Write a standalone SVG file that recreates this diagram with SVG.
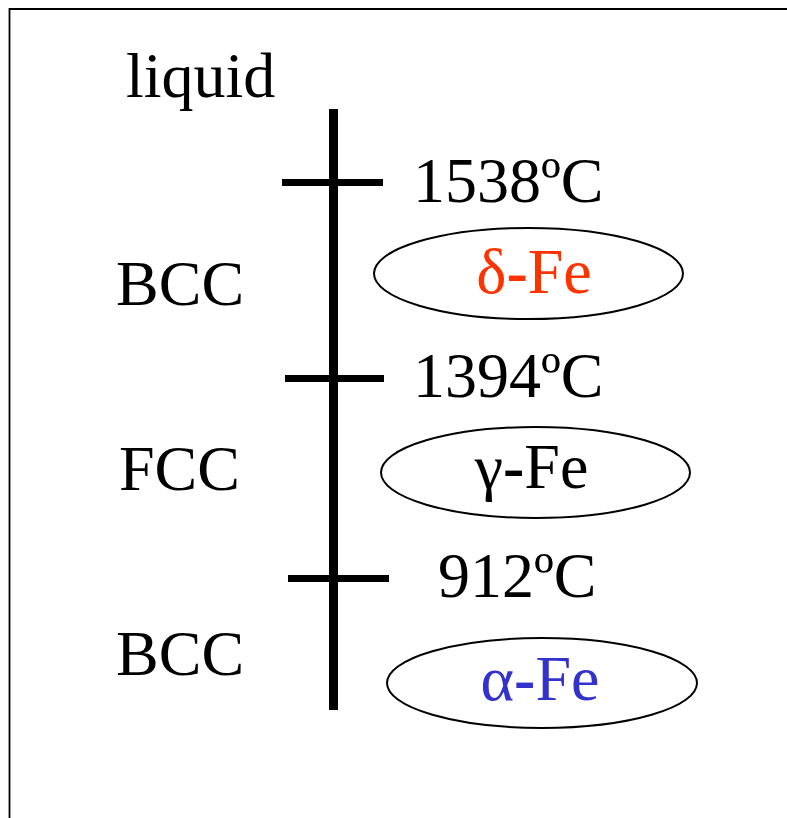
<svg xmlns="http://www.w3.org/2000/svg" width="787" height="818" viewBox="0 0 787 818">
<style>
.t{font-family:"Liberation Serif","Times New Roman",serif;font-size:64px;fill:#000}
.e{fill:none;stroke:#000;stroke-width:2}
.ax{stroke:#000;stroke-width:9}
.tk{stroke:#000;stroke-width:7}
.b{font-weight:bold}
</style>
<rect width="787" height="818" fill="#fff"/>
<g id="frame" fill="none" stroke="#000" stroke-width="1.8">
<path d="M9.5,818 V9 H787"/>
</g>
<g id="connectors">
<line class="ax" x1="333.5" y1="109" x2="333.5" y2="710"/>
<line class="tk" x1="282" y1="182.5" x2="383" y2="182.5"/>
<line class="tk" x1="285" y1="378.5" x2="384" y2="378.5"/>
<line class="tk" x1="288" y1="578.5" x2="389" y2="578.5"/>
</g>
<g id="liquid"><text class="t" x="126" y="97">liquid</text></g>
<g id="t1538"><text class="t" x="413" y="202">1538ºC</text></g>
<g id="t1394"><text class="t" x="413" y="397">1394ºC</text></g>
<g id="t912"><text class="t" x="438" y="597">912ºC</text></g>
<g id="bcc1"><text class="t" x="116" y="305">BCC</text></g>
<g id="fcc"><text class="t" x="119" y="490">FCC</text></g>
<g id="bcc2"><text class="t" x="116" y="675">BCC</text></g>
<g id="delta">
<ellipse class="e" cx="528.5" cy="273.5" rx="154.5" ry="45.5"/>
<text class="t" x="534" y="293" text-anchor="middle" style="fill:#FF3300">δ<tspan class="b">-</tspan>Fe</text>
</g>
<g id="gamma">
<ellipse class="e" cx="535.5" cy="472.5" rx="154.5" ry="45.5"/>
<text class="t" x="531.5" y="488" text-anchor="middle">γ<tspan class="b">-</tspan>Fe</text>
</g>
<g id="alpha">
<ellipse class="e" cx="542" cy="683" rx="155" ry="45"/>
<text class="t" x="540" y="700" text-anchor="middle" style="fill:#3333CC">α<tspan class="b">-</tspan>Fe</text>
</g>
</svg>
